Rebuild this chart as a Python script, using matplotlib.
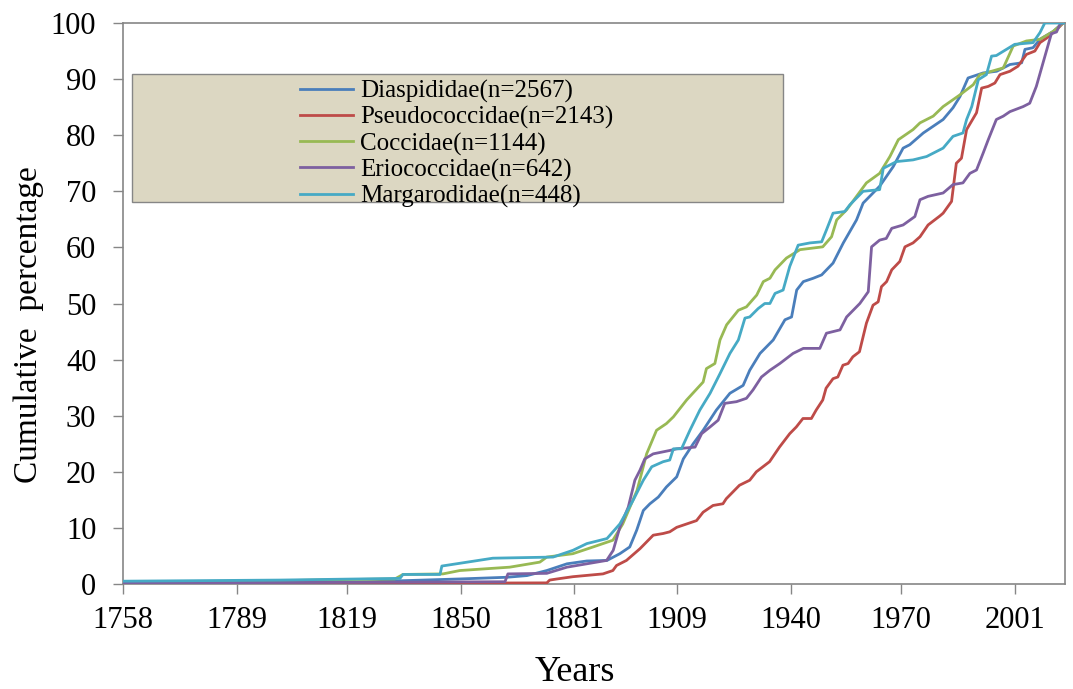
import matplotlib
matplotlib.use("Agg")
import matplotlib.pyplot as plt
from matplotlib.patches import Rectangle

plt.rcParams['font.family'] = ['Liberation Serif', 'DejaVu Serif']

# 数据 (年份, 累计百分比)
dia_year = [1758, 1819.9, 1849.8, 1862.6, 1868.1, 1873.5, 1879, 1884.4, 1889.9, 1893.4,
            1896.1, 1898, 1899.8, 1901.6, 1903.9, 1906.1, 1908.9, 1910.7, 1913.4, 1916.1,
            1919.7, 1923.4, 1927, 1928.8, 1931.6, 1935.2, 1938.4, 1940.2, 1941.6, 1943.4,
            1946.1, 1948.4, 1951.5, 1954.3, 1957.9, 1959.7, 1964.2, 1967.9, 1970.6, 1972.4,
            1976.1, 1978.8, 1981.5, 1984.2, 1986.1, 1988.3, 1992.4, 1996.1, 1999.7, 2002.9,
            2003.8, 2006, 2007.9, 2011.5, 2014.1]
dia_pct = [0.15, 0.3, 0.9, 1.2, 1.5, 2.4, 3.6, 4.1, 4.2, 5.4,
           6.6, 9.6, 13.1, 14.3, 15.5, 17.3, 19.1, 22.3, 25, 27.4,
           31, 34, 35.4, 38.1, 41.1, 43.5, 47.1, 47.6, 52.4, 53.9,
           54.5, 55.1, 57.2, 60.8, 64.9, 67.9, 70.9, 74.4, 77.7, 78.3,
           80.4, 81.6, 82.8, 84.9, 86.9, 90.2, 91.1, 91.4, 92.6, 92.9,
           95.3, 95.6, 97.1, 98.5, 100]

pse_year = [1758, 1819.9, 1873.5, 1874.3, 1876.3, 1880.6, 1888.8, 1891.5, 1892.5, 1895.2,
            1898.9, 1902.5, 1905.2, 1907, 1908.9, 1911.6, 1914.3, 1916.1, 1918.8, 1921.5,
            1922.4, 1926, 1928.8, 1930.6, 1934.2, 1936.9, 1939.7, 1941.5, 1943.3, 1945.6,
            1946.9, 1948.7, 1949.6, 1951.5, 1952.8, 1954.2, 1955.6, 1956.9, 1958.7, 1960.6,
            1962.4, 1963.8, 1964.7, 1966.1, 1967.5, 1969.7, 1971.1, 1973.3, 1975.2, 1977.4,
            1980.6, 1981.5, 1983.8, 1985.1, 1986.5, 1987.9, 1990.6, 1992, 1993.8, 1995.6,
            1997, 1999.7, 2001.9, 2004.2, 2006.5, 2007.9, 2009.7, 2012.4, 2014.2]
pse_pct = [0, 0.1, 0.2, 0.7, 0.9, 1.3, 1.8, 2.4, 3.3, 4.2,
           6.3, 8.7, 9.0, 9.3, 10.1, 10.7, 11.3, 12.8, 14, 14.3,
           15.2, 17.6, 18.5, 20, 21.8, 24.4, 26.8, 28, 29.5, 29.5,
           31, 32.8, 34.9, 36.6, 36.9, 39, 39.3, 40.5, 41.4, 46.5,
           49.7, 50.3, 53, 53.9, 56, 57.5, 60.1, 60.8, 61.9, 64,
           65.6, 66.1, 68.2, 75, 75.9, 81, 84, 88.4, 88.7, 89.3,
           90.8, 91.4, 92.3, 94.4, 95, 96.5, 97.3, 98.8, 100]

coc_year = [1758, 1792.6, 1819.9, 1832.1, 1834.3, 1845.2, 1849.8, 1863.4, 1871.6, 1873.5,
            1880.6, 1886.1, 1891.5, 1894.2, 1898.1, 1900.7, 1903.4, 1906.1, 1908, 1911.6,
            1916.1, 1917, 1919.3, 1920.7, 1922.5, 1925.7, 1927.9, 1930.7, 1932.5, 1934.3,
            1935.7, 1938.8, 1942.5, 1948.7, 1951.1, 1952.5, 1955.2, 1957.9, 1960.6, 1964.2,
            1967, 1969.3, 1973.3, 1975.2, 1978.8, 1981.5, 1986.1, 1989.7, 1991.5, 1997.9,
            2000.6, 2004.2, 2007.9, 2011.5, 2014.2]
coc_pct = [0.4, 0.5, 0.8, 0.9, 1.7, 1.8, 2.4, 3.0, 3.9, 4.8,
           5.4, 6.6, 7.8, 10.7, 16.7, 23.2, 27.4, 28.6, 29.8, 32.8,
           36, 38.4, 39.3, 43.5, 46.2, 48.8, 49.4, 51.5, 53.9, 54.5,
           56, 58.1, 59.6, 60.1, 61.9, 64.9, 66.7, 69.1, 71.5, 73.2,
           76.2, 79.2, 81, 82.2, 83.4, 85.1, 87.2, 89, 90.8, 92,
           95.9, 96.8, 97.1, 98.5, 100]

eri_year = [1758, 1823.4, 1862.1, 1862.9, 1873.5, 1879, 1884.4, 1889.8, 1891.6, 1893.4,
            1895.7, 1897.5, 1898.9, 1900.2, 1902.5, 1907, 1908.9, 1913.9, 1915.7, 1918,
            1920.2, 1922, 1925.2, 1927.9, 1929.7, 1932, 1934.3, 1937, 1940.6, 1943.4,
            1947.9, 1949.7, 1953.4, 1955.2, 1958.8, 1961.1, 1962, 1964.2, 1966, 1967.5,
            1970.6, 1973.8, 1975.2, 1977.4, 1981.5, 1984.2, 1986.9, 1988.8, 1990.6, 1992.4,
            1993.8, 1996, 1997.9, 1999.7, 2003.3, 2005.1, 2006.9, 2009.6, 2011, 2012.4,
            2013.3, 2014.1]
eri_pct = [0.2, 0.3, 0.4, 1.8, 1.9, 3.0, 3.6, 4.2, 6.0, 10.1,
           13.7, 18.5, 20.3, 22.3, 23.2, 23.8, 24.1, 24.4, 26.8, 28,
           29.2, 32.2, 32.5, 33.1, 34.6, 36.9, 38.1, 39.3, 41.1, 42,
           42, 44.7, 45.3, 47.6, 50, 52.1, 60.1, 61.3, 61.6, 63.4,
           64, 65.5, 68.5, 69.1, 69.7, 71.2, 71.5, 73.2, 73.8, 76.8,
           79.2, 82.8, 83.4, 84.2, 85.1, 85.7, 88.7, 94.9, 98.1, 98.4,
           99.7, 100]

mar_year = [1758, 1800.8, 1833.5, 1834.3, 1844.4, 1844.9, 1858.8, 1875.2, 1880.6, 1884.4,
            1889.9, 1893.4, 1897, 1899.8, 1902.1, 1905.2, 1907, 1908, 1910.2, 1912.5,
            1915.2, 1918, 1920.7, 1923.4, 1925.7, 1927.5, 1928.8, 1931.1, 1932.9, 1934.3,
            1935.7, 1937.9, 1939.7, 1942, 1945.2, 1948.4, 1949.7, 1951.5, 1954.7, 1956.1,
            1959.7, 1964.2, 1965.2, 1968.8, 1973.3, 1977, 1981.5, 1984.2, 1986.9, 1987.9,
            1989.3, 1991.1, 1993.3, 1994.7, 1996, 2001, 2006, 2007.9, 2009.2, 2014.7]
mar_pct = [0.5, 0.7, 1.0, 1.7, 1.7, 3.2, 4.6, 4.8, 6.0, 7.2,
           8.1, 10.7, 14.9, 18.5, 20.9, 21.8, 22.1, 24.1, 24.1, 27.4,
           31, 34, 37.5, 41.1, 43.5, 47.4, 47.6, 49.1, 50, 50,
           51.8, 52.4, 56.6, 60.4, 60.8, 61, 63.1, 66.1, 66.4, 67.6,
           70, 70.3, 74.1, 75.3, 75.6, 76.2, 77.7, 79.8, 80.4, 82.8,
           85.1, 89.9, 90.8, 94.1, 94.2, 96.2, 96.5, 98.3, 100, 100]

series = [
    ("Diaspididae(n=2567)", dia_year, dia_pct, "#4A7EBB"),
    ("Pseudococcidae(n=2143)", pse_year, pse_pct, "#BE4B48"),
    ("Coccidae(n=1144)", coc_year, coc_pct, "#98B954"),
    ("Eriococcidae(n=642)", eri_year, eri_pct, "#7D60A0"),
    ("Margarodidae(n=448)", mar_year, mar_pct, "#46AAC5"),
]
x_ticks = [1758, 1789, 1819, 1850, 1881, 1909, 1940, 1970, 2001]
y_ticks = list(range(0, 101, 10))

fig = plt.figure(figsize=(10.73, 6.89), dpi=100)
ax = fig.add_axes([0.1146, 0.1524, 0.8779, 0.8142])

# 图例背景框
ax.add_patch(Rectangle((0.0096, 0.681), 0.691, 0.228, transform=ax.transAxes,
                       facecolor="#DCD7C2", edgecolor="#868686", linewidth=1.0, zorder=1))

for name, xs, ys, col in series:
    ax.plot(xs, ys, color=col, linewidth=2.0, label=name, zorder=3,
            solid_joinstyle="round")

ax.set_xlim(1758, 2014.7)
ax.set_ylim(0, 100)
ax.set_xticks(x_ticks)
ax.set_yticks(y_ticks)
ax.tick_params(axis="both", labelsize=22, colors="#868686", length=7.2, width=1,
               labelcolor="black", direction="out")
ax.tick_params(axis="x", pad=9)
ax.tick_params(axis="y", pad=12)
for s in ax.spines.values():
    s.set_color("#868686")
    s.set_linewidth(1.2)

ax.set_xlabel("Years", fontsize=26)
ax.set_ylabel("Cumulative  percentage", fontsize=24)
ax.xaxis.set_label_coords(0.48, -0.128)
ax.yaxis.set_label_coords(-0.084, 0.462)

leg = ax.legend(loc="upper left", bbox_to_anchor=(0.188, 0.898), frameon=False,
                fontsize=18, handlelength=2.1, handletextpad=0.3, labelspacing=0.12,
                borderpad=0, borderaxespad=0)
leg.set_zorder(4)

fig.savefig("out.png", dpi=100)
